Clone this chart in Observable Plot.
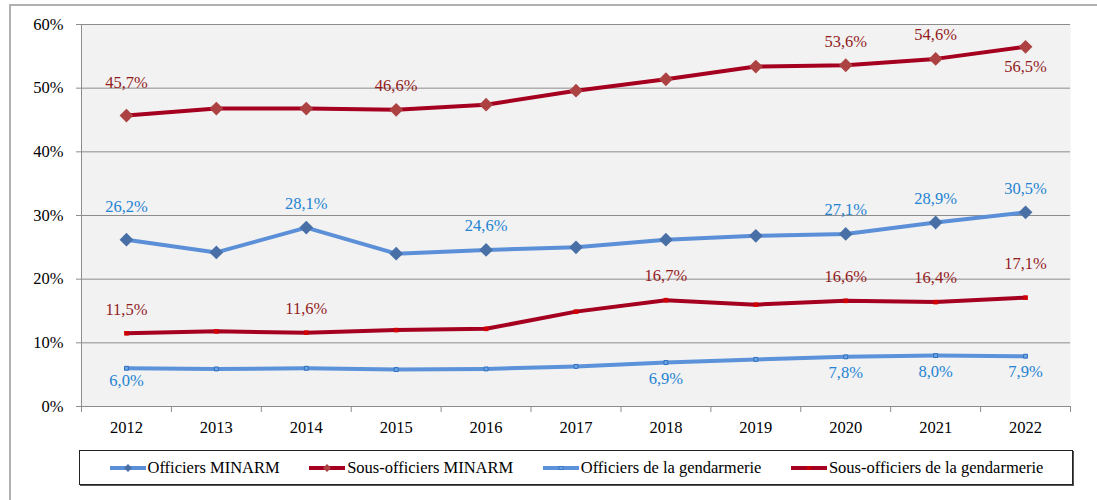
<!DOCTYPE html>
<html><head><meta charset="utf-8">
<script src="https://cdn.jsdelivr.net/npm/d3@7"></script>
<script src="https://cdn.jsdelivr.net/npm/@observablehq/plot@0.6"></script>
<style>
html,body{margin:0;padding:0;background:#fff;}
#wrap{position:relative;width:1097px;height:500px;overflow:hidden;font-family:"Liberation Serif","Times New Roman",Times,"DejaVu Serif",serif;}
#frame{position:absolute;left:9px;top:4px;right:-5px;bottom:-5px;border-left:2px solid #b0b0b0;border-top:2px solid #b0b0b0;}
#chart{position:absolute;left:0;top:0;}
#chart svg text{font-family:"Liberation Serif","Times New Roman",Times,"DejaVu Serif",serif;}
#legend{position:absolute;left:79px;top:450px;width:992px;height:33px;border:1px solid #222;box-shadow:1px 1px 0 #555;display:flex;justify-content:space-evenly;align-items:center;font-size:16.5px;color:#000;background:#fff;}
.item{display:flex;align-items:center;white-space:nowrap;}
.item svg{margin-right:1px;}
</style></head><body>
<div id="wrap"><div id="frame"></div><div id="chart"></div><div id="legend"></div></div>
<script>
// ---- data ----
const years = [2012, 2013, 2014, 2015, 2016, 2017, 2018, 2019, 2020, 2021, 2022];
const seriesNames = ["Officiers MINARM", "Sous-officiers MINARM", "Officiers de la gendarmerie", "Sous-officiers de la gendarmerie"];
const officiersMinarm = [26.2, 24.2, 28.1, 24.0, 24.6, 25.0, 26.2, 26.8, 27.1, 28.9, 30.5];
const sousOfficiersMinarm = [45.7, 46.8, 46.8, 46.6, 47.4, 49.6, 51.4, 53.4, 53.6, 54.6, 56.5];
const officiersGendarmerie = [6.0, 5.9, 6.0, 5.8, 5.9, 6.3, 6.9, 7.4, 7.8, 8.0, 7.9];
const sousOfficiersGendarmerie = [11.5, 11.8, 11.6, 12.0, 12.2, 14.9, 16.7, 16.0, 16.6, 16.4, 17.1];
const labelYearsOffMinarm = [2012, 2014, 2016, 2020, 2021, 2022];
const labelYearsSousOffMinarm = [2012, 2015, 2020, 2021, 2022];
const labelYearsOffGend = [2012, 2018, 2020, 2021, 2022];
const labelYearsSousOffGend = [2012, 2014, 2018, 2020, 2021, 2022];
const yTicks = [0, 10, 20, 30, 40, 50, 60];

// ---- styles ----
const FONT = "'Liberation Serif', 'Times New Roman', Times, 'DejaVu Serif', serif";
const FS = 16.5;
const styles = [
  {values: officiersMinarm, labels: labelYearsOffMinarm, line: "#5b8fd7", marker: "diamond2", mfill: "#4870a6", mstroke: "none", r: 6.2, text: "#2483d2", below: []},
  {values: sousOfficiersMinarm, labels: labelYearsSousOffMinarm, line: "#a5001f", marker: "diamond2", mfill: "#ad4242", mstroke: "none", r: 6.2, text: "#931c1c", below: [2022]},
  {values: officiersGendarmerie, labels: labelYearsOffGend, line: "#5b92d9", marker: "square", mfill: "#6ea7e3", mstroke: "#2f6fbf", r: 2.2, text: "#2483d2", below: [2012, 2018, 2020, 2021, 2022]},
  {values: sousOfficiersGendarmerie, labels: labelYearsSousOffGend, line: "#a5001f", marker: "square", mfill: "#d00000", mstroke: "none", r: 2.6, text: "#931c1c", below: []}
];
const nudge = {"0|2012": -9, "1|2012": -9, "3|2022": -10, "1|2022": 4, "2|2012": -4};

const rows = [];
styles.forEach((s, si) => years.forEach((yr, i) => rows.push({si, series: seriesNames[si], year: yr, value: s.values[i]})));

const fmt = v => v.toFixed(1).replace(".", ",") + "%";
const labelRows = rows.filter(d => styles[d.si].labels.includes(d.year)).map(d => {
  const s = styles[d.si];
  const base = s.below.includes(d.year) ? 16 : -24;
  return {...d, dy: base + (nudge[d.si + "|" + d.year] || 0)};
});
const byDy = d3.groups(labelRows, d => d.dy);
const boundaries = [...years.map(y => y - 0.5), years[years.length - 1] + 0.5];

const marks = [
  Plot.frame({fill: "#f2f2f2", stroke: null}),
  Plot.gridY(yTicks, {stroke: "#8c8c8c", strokeOpacity: 1, strokeWidth: 1}),
  Plot.axisY(yTicks, {label: null, tickSize: 5, tickPadding: 13, tickFormat: d => d + "%", stroke: "#8c8c8c", fill: "#000", fontSize: FS}),
  Plot.ruleX([boundaries[0]], {stroke: "#8c8c8c"}),
  Plot.ruleY([0], {stroke: "#8c8c8c"}),
  Plot.axisX(boundaries, {label: null, tickSize: 6, tickFormat: () => "", stroke: "#8c8c8c"}),
  Plot.axisX(years, {label: null, tickSize: 0, tickPadding: 15, tickFormat: d => String(d), fontSize: FS, fill: "#000"})
];
styles.forEach((s, si) => {
  marks.push(Plot.line(rows, {filter: d => d.si === si, x: "year", y: "value", stroke: s.line, strokeWidth: 4, strokeLinejoin: "round"}));
  marks.push(Plot.dot(rows, {filter: d => d.si === si, x: "year", y: "value", symbol: s.marker, r: s.r, fill: s.mfill, stroke: s.mstroke, strokeWidth: 1}));
});
byDy.forEach(([dy, arr]) => {
  marks.push(Plot.text(arr, {x: "year", y: "value", text: d => fmt(d.value), dy, fill: d => styles[d.si].text, fontSize: FS}));
});

const plot = Plot.plot({
  width: 1097, height: 440,
  marginLeft: 81, marginRight: 27, marginTop: 24, marginBottom: 34,
  style: {fontFamily: FONT, fontSize: FS + "px", background: "transparent", color: "#000"},
  x: {domain: [boundaries[0], boundaries[boundaries.length - 1]], axis: null},
  y: {domain: [0, 60], axis: null},
  marks
});
document.getElementById("chart").appendChild(plot);

// legend
const legend = d3.select("#legend");
styles.forEach((s, si) => {
  const item = legend.append("div").attr("class", "item");
  const svg = item.append("svg").attr("width", 38).attr("height", 12);
  svg.append("line").attr("x1", 1).attr("x2", 37).attr("y1", 6).attr("y2", 6).attr("stroke", s.line).attr("stroke-width", 4);
  if (s.marker === "diamond2") {
    svg.append("path").attr("d", "M19,2L23,6L19,10L15,6Z").attr("fill", s.mfill);
  } else {
    svg.append("rect").attr("x", 17).attr("y", 4.5).attr("width", 4).attr("height", 3).attr("fill", s.mfill).attr("stroke", s.mstroke === "none" ? null : s.mstroke).attr("stroke-width", 0.8);
  }
  item.append("span").text(seriesNames[si]);
});
</script>
</body></html>
